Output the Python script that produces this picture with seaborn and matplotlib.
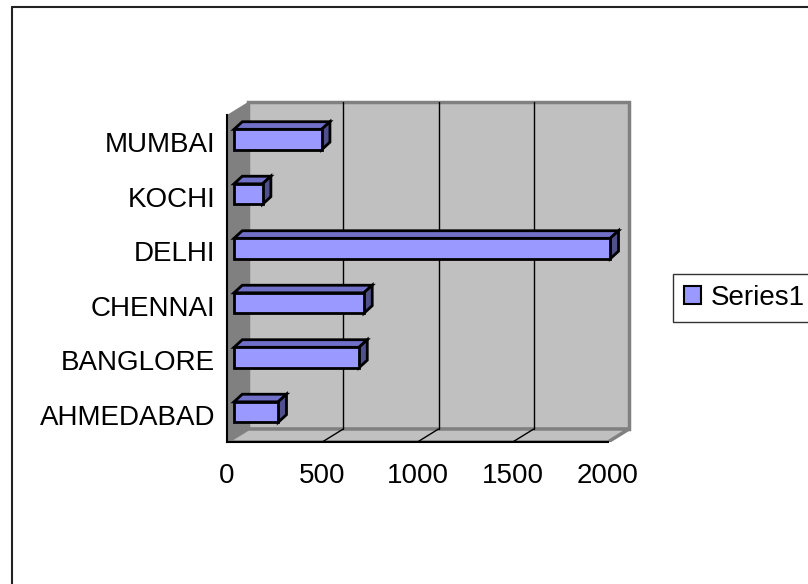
import matplotlib
matplotlib.use('Agg')
import matplotlib.pyplot as plt
from matplotlib.patches import Polygon, Rectangle
from matplotlib.lines import Line2D
import numpy as np
import seaborn as sns

# data (bottom to top, as in the chart)
cities = ['AHMEDABAD', 'BANGLORE', 'CHENNAI', 'DELHI', 'KOCHI', 'MUMBAI']
values = [232, 656, 682, 1975, 150, 460]
x_ticks = [0, 500, 1000, 1500, 2000]
series_name = 'Series1'

sns.set_style('white')
plt.rcParams['font.family'] = ['Liberation Sans', 'DejaVu Sans']
plt.rcParams['text.color'] = 'black'
plt.rcParams['xtick.color'] = 'black'
plt.rcParams['ytick.color'] = 'black'
plt.rcParams['axes.labelcolor'] = 'black'

W, H = 808, 584
fig = plt.figure(figsize=(W / 100, H / 100), dpi=100)
fig.patch.set_facecolor('white')

# pixel geometry of the Excel-like 3D box
x0_px, y0_px = 227, 442
band_px = 54.5
unit_px = 381 / 2000
ux = 1 / unit_px
uy = 1 / band_px
DX, DY = 21 * ux, 13 * uy          # depth of the box
FX, FY = 7 * ux, 2.7 * uy          # front face of bars
BX, BY = 8.3 * ux, 7.6 * uy        # depth of bars

xmax = 2000 + 24 * ux
ymax = 5.5 + 16 * uy
ax = fig.add_axes([x0_px / W, (H - y0_px) / H,
                   xmax * unit_px / W, (ymax + 0.5) * band_px / H])

sns.barplot(x=values, y=cities, order=cities, orient='h', color='#9999FF',
            saturation=1, width=0.375, edgecolor='black', linewidth=2,
            ax=ax, zorder=5)

ax.set_xlim(0, xmax)
ax.set_ylim(-0.5, ymax)
ax.set_xlabel('')
ax.set_ylabel('')

# walls and floor
lo, hi = -0.5, 5.5
ax.add_patch(Polygon([(DX, lo + DY), (2000 + DX, lo + DY), (2000 + DX, hi + DY), (DX, hi + DY)],
                     closed=True, fc='#C0C0C0', ec='#808080', lw=2.5, zorder=0))
ax.add_patch(Polygon([(0, lo), (DX, lo + DY), (DX, hi + DY), (0, hi)],
                     closed=True, fc='#808080', ec='none', zorder=1))
ax.add_patch(Polygon([(0, lo), (2000, lo), (2000 + DX, lo + DY), (DX, lo + DY)],
                     closed=True, fc='#C0C0C0', ec='#808080', lw=2.5, zorder=1))
for t in x_ticks[1:-1]:
    ax.plot([t + DX, t + DX], [lo + DY, hi + DY], color='black', lw=1, zorder=2)
    ax.plot([t, t + DX], [lo, lo + DY], color='black', lw=1, zorder=2)

# 3D bars
for bar in list(ax.patches):
    if not isinstance(bar, Rectangle):
        continue
    bar.set_x(bar.get_x() + FX)
    bar.set_y(bar.get_y() + FY)
    x, y, w, h = bar.get_x(), bar.get_y(), bar.get_width(), bar.get_height()
    x1, yt = x + w, y + h
    top = [(x, yt), (x1, yt), (x1 + BX, yt + BY), (x + BX, yt + BY)]
    side = [(x1, y), (x1 + BX, y + BY), (x1 + BX, yt + BY), (x1, yt)]
    ax.add_patch(Polygon(top, closed=True, fc='#7070C8', ec='black', lw=2,
                         joinstyle='miter', zorder=4))
    ax.add_patch(Polygon(side, closed=True, fc='#50508C', ec='black', lw=2,
                         joinstyle='miter', zorder=4))

# axes lines and ticks
for s in ['top', 'right']:
    ax.spines[s].set_visible(False)
ax.spines['left'].set_bounds(lo, hi)
ax.spines['bottom'].set_bounds(0, 2000)
for s in ['left', 'bottom']:
    ax.spines[s].set_color('black')
    ax.spines[s].set_linewidth(1.5)
    ax.spines[s].set_zorder(6)

ax.set_xticks(x_ticks)
ax.set_xticklabels([str(t) for t in x_ticks], fontsize=20, color='black')
ax.set_yticks(np.arange(lo, hi + 1, 1))
ax.set_yticklabels([''] * 7)
ax.set_yticks(range(len(cities)), labels=cities, minor=True)
ax.tick_params(axis='x', direction='out', length=5, width=1, color='black', pad=10)
ax.tick_params(axis='y', which='major', direction='out', length=5, width=1, color='black')
ax.tick_params(axis='y', which='minor', length=0, pad=8.6, labelsize=20, labelcolor='black')
ax.patch.set_alpha(0)

# legend
handle = Rectangle((0, 0), 1, 1, fc='#9999FF', ec='black', lw=1.5)
leg = fig.legend([handle], [series_name], loc='upper left',
                 bbox_to_anchor=(673 / W, 1 - 274 / H), bbox_transform=fig.transFigure,
                 fontsize=20, frameon=True, fancybox=False, borderaxespad=0,
                 borderpad=0.4, handlelength=0.62, handleheight=0.62,
                 handletextpad=0.35, labelcolor='black')
leg.get_frame().set_edgecolor('black')
leg.get_frame().set_linewidth(1)

# outer chart border
fig.add_artist(Line2D([12 / W, 12 / W], [0, 1 - 7 / H], transform=fig.transFigure,
                      color='#222222', lw=1.5))
fig.add_artist(Line2D([12 / W, 1], [1 - 7 / H, 1 - 7 / H], transform=fig.transFigure,
                      color='#222222', lw=1.5))

fig.savefig('out.png', dpi=100)
